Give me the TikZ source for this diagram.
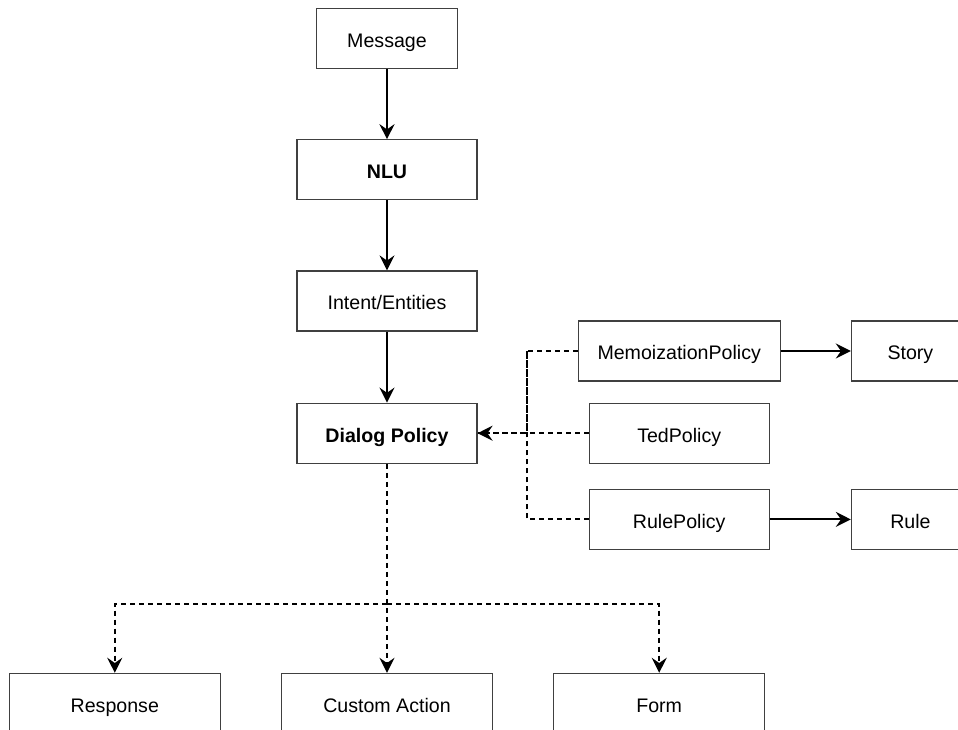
\documentclass[tikz,border=0pt]{standalone}
\usepackage{fontspec}
\setmainfont{Liberation Sans}
\usetikzlibrary{arrows.meta, positioning}
\tikzset{
  box/.style={
    rectangle, draw=black!75, line width=0.6pt, fill=white,
    align=center, minimum width=#1, minimum height=30pt,
    inner sep=0pt, text height=9.6pt, text depth=0.8pt,
    font=\fontsize{9.8}{12}\selectfont
  },
  box/.default=90pt,
  arrow/.style={-{Stealth[length=7.5pt, width=7.5pt, inset=2.6pt]}, line width=1pt},
  darrow/.style={arrow, dash pattern=on 2.5pt off 2pt},
  dline/.style={line width=1pt, dash pattern=on 2.5pt off 2pt}
}
\begin{document}
\begin{tikzpicture}[node distance=35pt]
    % Cadena principal
    \node[box=70.5pt] (msg) {Message};
    \node[box, below=35pt of msg] (nlu) {\bfseries NLU};
    \node[box, below=35pt of nlu] (intent) {Intent/Entities};
    \node[box, below=35.5pt of intent] (dp) {\bfseries Dialog Policy};

    % Canvas
    \clip ([xshift=-193.5pt, yshift=4pt]msg.north) rectangle ++(479pt,-364.5pt);

    % Policies
    \node[box, right=55.5pt of dp] (ted) {TedPolicy};
    \node[box=101pt, above=10.5pt of ted] (memo) {MemoizationPolicy};
    \node[box, below=12.5pt of ted] (rp) {RulePolicy};
    \node[box=59pt, right=35pt of memo] (story) {Story};
    \node[box=59pt, right=40.5pt of rp] (rule) {Rule};

    % Acciones
    \node[box=105.5pt, below=104.5pt of dp] (ca) {Custom Action};
    \node[box=105.5pt, left=30pt of ca] (resp) {Response};
    \node[box=105.5pt, right=30pt of ca] (form) {Form};

    % Flechas principales
    \foreach \a/\b in {msg/nlu, nlu/intent, intent/dp}{%
      \draw[arrow] (\a) -- (\b);}

    % Policies -> Dialog Policy
    \draw[darrow] (ted) -- (dp);
    \draw[dline] (memo.west) -- ++(-25.5pt,0) coordinate (bus)
      |- (dp.east);
    \draw[dline] (rp.west) -| (bus);
    \draw[arrow] (memo) -- (story);
    \draw[arrow] (rp) -- (rule);

    % Dialog Policy -> acciones
    \coordinate[below=70pt of dp.south] (split);
    \draw[darrow] (dp) -- (ca);
    \foreach \t in {resp, form}{%
      \draw[darrow] (split) -| (\t.north);}
\end{tikzpicture}
\end{document}
